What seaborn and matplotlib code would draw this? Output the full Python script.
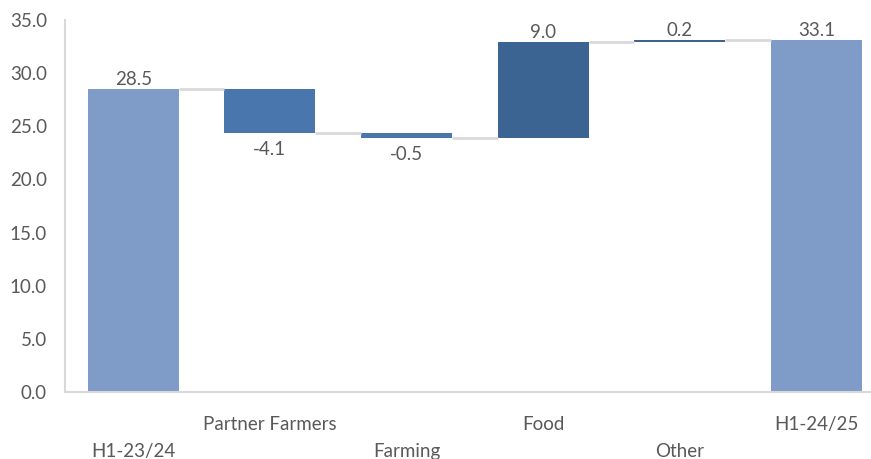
import matplotlib
matplotlib.use("Agg")
import matplotlib.pyplot as plt
import seaborn as sns
import numpy as np
import pandas as pd

categories = ["H1-23/24", "Partner Farmers", "Farming", "Food", "Other", "H1-24/25"]
values = [28.5, -4.1, -0.5, 9.0, 0.2, 33.1]
kinds = ["total", "delta", "delta", "delta", "delta", "total"]
colors = ["#7f9bc7", "#4876ad", "#4876ad", "#3c6492", "#3c6492", "#7f9bc7"]

# compute bottoms/heights of waterfall
bottoms, heights, tops = [], [], []
level = 0.0
for v, k in zip(values, kinds):
    if k == "total":
        bottoms.append(0.0); heights.append(v); level = v
    else:
        new = level + v
        bottoms.append(min(level, new)); heights.append(abs(v)); level = new
    tops.append(level)

df = pd.DataFrame({"cat": categories, "h": heights})

sns.set_theme(style="white")
plt.rcParams["font.family"] = ["Lato", "DejaVu Sans"]

fig = plt.figure(figsize=(8.71, 4.59), dpi=100)
ax = fig.add_axes([65/871, (459-392)/459, (871-65)/871, (392-20)/459])

sns.barplot(data=df, x="cat", y="h", bottom=bottoms, width=0.665, ax=ax,
            errorbar=None, order=categories, color=colors[0], saturation=1)
for p, c in zip(ax.patches, colors):
    p.set_facecolor(c)
    p.set_edgecolor("none")

bw = 0.665
# connectors
for i in range(len(categories) - 1):
    ax.plot([i + bw/2, i + 1 - bw/2], [tops[i], tops[i]], color="#d9d9d9", lw=2, zorder=1,
            solid_capstyle="butt")

fs = 13.5
# value labels
for i, (v, k) in enumerate(zip(values, kinds)):
    if k == "total" or v >= 0:
        y = bottoms[i] + heights[i]
        ax.annotate(f"{v:.1f}", (i, y), xytext=(0, 1), textcoords="offset points",
                    ha="center", va="bottom", fontsize=fs, color="#595959")
    else:
        y = bottoms[i]
        ax.annotate(f"{v:.1f}", (i, y), xytext=(0, -6), textcoords="offset points",
                    ha="center", va="top", fontsize=fs, color="#595959")

ax.set_ylim(0, 35)
ax.set_xlim(-0.5, -0.5 + (871-65)/136.6)
ax.set_yticks(np.arange(0, 35.1, 5))
ax.set_yticklabels([f"{t:.1f}" for t in np.arange(0, 35.1, 5)])
ax.set_xticks(range(len(categories)))
ax.set_xticklabels([("\n" + c) if i % 2 == 0 else c for i, c in enumerate(categories)],
                   linespacing=1.75)
ax.tick_params(axis="x", length=0, pad=17, labelsize=fs, labelcolor="#595959")
ax.tick_params(axis="y", length=0, pad=13, labelsize=fs, labelcolor="#595959")
ax.set_xlabel("")
ax.set_ylabel("")
for s in ["top", "right"]:
    ax.spines[s].set_visible(False)
for s in ["left", "bottom"]:
    ax.spines[s].set_color("#d9d9d9")
    ax.spines[s].set_linewidth(1.5)

fig.savefig("out.png", dpi=100)
